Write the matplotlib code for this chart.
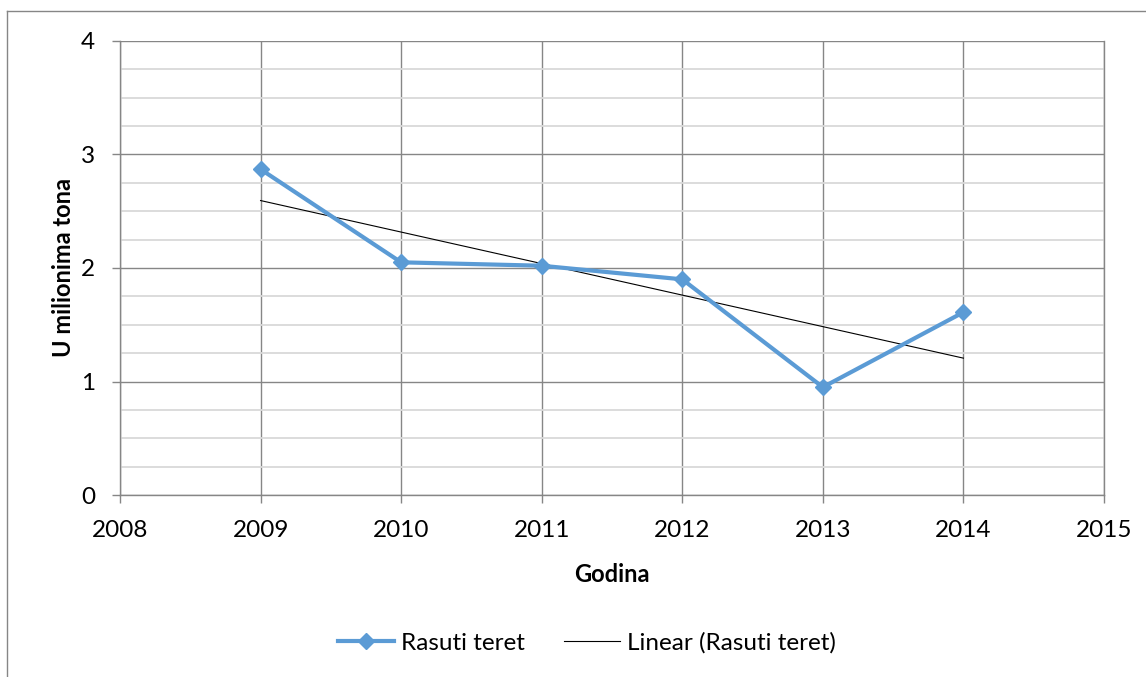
import matplotlib
matplotlib.use("Agg")
import matplotlib.pyplot as plt
import numpy as np
from matplotlib.lines import Line2D
from matplotlib.ticker import MultipleLocator

plt.rcParams["font.family"] = ["Lato", "DejaVu Sans"]

# data
years = [2009, 2010, 2011, 2012, 2013, 2014]
rasuti_teret = [2.87, 2.05, 2.02, 1.90, 0.95, 1.61]

series_label = "Rasuti teret"
trend_label = "Linear (Rasuti teret)"
x_label = "Godina"
y_label = "U milionima tona"

blue = "#5B9BD5"
major_grid = "#868686"
minor_grid = "#D9D9D9"

fig = plt.figure(figsize=(11.46, 6.77), dpi=100)
ax = fig.add_axes([120 / 1146, 1 - 495 / 677, (1104 - 120) / 1146, (495 - 41) / 677])

# linear trendline, fitted the same way the spreadsheet does
coef = np.polyfit(years, rasuti_teret, 1)
trend = np.polyval(coef, years)

ax.plot(years, trend, color="black", lw=0.8, zorder=3)
ax.plot(years, rasuti_teret, color=blue, lw=3.0, marker="D", ms=8,
        markeredgecolor=blue, zorder=4)

ax.set_xlim(2008, 2015)
ax.set_ylim(0, 4)
ax.xaxis.set_major_locator(MultipleLocator(1))
ax.yaxis.set_major_locator(MultipleLocator(1))
ax.yaxis.set_minor_locator(MultipleLocator(0.25))

ax.grid(True, which="major", color=major_grid, lw=1.0)
ax.grid(True, which="minor", axis="y", color=minor_grid, lw=1.3)
ax.set_axisbelow(True)

for side in ["left", "bottom", "right", "top"]:
    ax.spines[side].set_color(major_grid)
    ax.spines[side].set_linewidth(1.0)
ax.spines["top"].set_visible(False)

ax.tick_params(which="major", length=6, width=1.0, color=major_grid,
               labelsize=17.5)
ax.tick_params(which="minor", length=0)
ax.tick_params(axis="x", pad=12)
ax.tick_params(axis="y", pad=12)

ax.set_xlabel(x_label, fontsize=17, fontweight="bold", labelpad=16)
ax.set_ylabel(y_label, fontsize=17, fontweight="bold", labelpad=4)

handles = [
    Line2D([], [], color=blue, lw=3.0, marker="D", ms=8),
    Line2D([], [], color="black", lw=0.8),
]
fig.legend(handles, [series_label, trend_label], loc="center",
           bbox_to_anchor=(587 / 1146, 1 - 643 / 677), ncol=2, frameon=False,
           fontsize=17.5, handlelength=2.3, columnspacing=1.6, handletextpad=0.3)

# outer chart frame, partly clipped by the image edge
fig.add_artist(Line2D([7 / 1146, 7 / 1146], [0, 1 - 11 / 677],
                      transform=fig.transFigure, color=major_grid, lw=1.0))
fig.add_artist(Line2D([7 / 1146, 1], [1 - 11 / 677, 1 - 11 / 677],
                      transform=fig.transFigure, color=major_grid, lw=1.0))

fig.savefig("out.png", dpi=100)
